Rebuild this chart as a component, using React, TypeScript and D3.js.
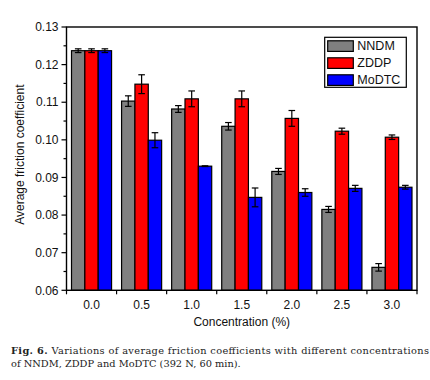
import React from "react";
import * as d3 from "d3";

const categories = ["0.0", "0.5", "1.0", "1.5", "2.0", "2.5", "3.0"];
const seriesNames = ["NNDM", "ZDDP", "MoDTC"];
const seriesColors = ["#808080", "#ff0000", "#0000ff"];
const nndm = [0.1237, 0.1103, 0.1082, 0.1036, 0.0916, 0.0815, 0.0661];
const nndmErr = [0.0005, 0.0014, 0.0009, 0.001, 0.0008, 0.0008, 0.001];
const zddp = [0.1237, 0.1148, 0.1109, 0.1109, 0.1057, 0.1023, 0.1007];
const zddpErr = [0.0005, 0.0025, 0.0021, 0.0021, 0.0021, 0.0008, 0.0006];
const modtc = [0.1237, 0.0999, 0.093, 0.0847, 0.086, 0.0871, 0.0874];
const modtcErr = [0.0005, 0.002, 0.0001, 0.0025, 0.001, 0.0008, 0.0005];
const yTicks = [0.06, 0.07, 0.08, 0.09, 0.1, 0.11, 0.12, 0.13];
const yMinor = [0.065, 0.075, 0.085, 0.095, 0.105, 0.115, 0.125];

export default function App() {
  const W = 430, H = 380;
  const L = 66.5, R = 417, T = 27, B = 290.3;
  const x = d3.scaleBand<string>().domain(categories).range([L, R]).paddingInner(0).paddingOuter(0);
  const inner = d3.scaleBand<string>().domain(seriesNames).range([0, x.bandwidth()]).paddingInner(0).paddingOuter(0.375);
  const y = d3.scaleLinear().domain([0.06, 0.13]).range([B, T]);
  const vals = [nndm, zddp, modtc];
  const errs = [nndmErr, zddpErr, modtcErr];
  const font = "'Liberation Sans', Arial, sans-serif";
  const boundaries = categories.map((c) => x(c)!).concat([R]);
  const legX = 324.7, legY = 37.3;

  return (
    <svg width={W} height={H} style={{ position: "absolute", left: 0, top: 0, background: "#fff" }}>
      <rect x={0} y={0} width={W} height={H} fill="#fff" />
      {categories.map((c, i) =>
        seriesNames.map((s, k) => {
          const bx = x(c)! + inner(s)!;
          const v = vals[k][i];
          const e = errs[k][i];
          const cx = bx + inner.bandwidth() / 2;
          return (
            <g key={c + s}>
              <rect x={bx} y={y(v)} width={inner.bandwidth()} height={B - y(v)} fill={seriesColors[k]} stroke="#000" strokeWidth={1.2} />
              <line x1={cx} x2={cx} y1={y(v + e)} y2={y(v - e)} stroke="#000" strokeWidth={1.2} />
              <line x1={cx - 3.3} x2={cx + 3.3} y1={y(v + e)} y2={y(v + e)} stroke="#000" strokeWidth={1.2} />
              <line x1={cx - 3.3} x2={cx + 3.3} y1={y(v - e)} y2={y(v - e)} stroke="#000" strokeWidth={1.2} />
            </g>
          );
        })
      )}
      <rect x={L} y={T} width={R - L} height={B - T} fill="none" stroke="#000" strokeWidth={1.4} />
      {yTicks.map((t) => (
        <g key={t}>
          <line x1={L - 5} x2={L} y1={y(t)} y2={y(t)} stroke="#000" strokeWidth={1.2} />
          <text x={L - 8} y={y(t)} dy="0.35em" textAnchor="end" fontFamily={font} fontSize={12} fill="#111">
            {t.toFixed(2)}
          </text>
        </g>
      ))}
      {yMinor.map((t) => (
        <line key={t} x1={L - 3} x2={L} y1={y(t)} y2={y(t)} stroke="#000" strokeWidth={1.2} />
      ))}
      {boundaries.map((bx, i) => (
        <line key={i} x1={bx} x2={bx} y1={B} y2={B + 4} stroke="#000" strokeWidth={1.2} />
      ))}
      {categories.map((c) => (
        <text key={c} x={x(c)! + x.bandwidth() / 2} y={309} textAnchor="middle" fontFamily={font} fontSize={12} fill="#111">
          {c}
        </text>
      ))}
      <text x={(L + R) / 2} y={326} textAnchor="middle" fontFamily={font} fontSize={12} fill="#111">
        Concentration (%)
      </text>
      <text transform={`translate(24,${(T + B) / 2 - 4}) rotate(-90)`} textAnchor="middle" fontFamily={font} fontSize={12} fill="#111">
        Average friction coefficient
      </text>
      <rect x={legX} y={legY} width={81.6} height={50} fill="#fff" stroke="#000" strokeWidth={1.2} />
      {seriesNames.map((s, k) => (
        <g key={s}>
          <rect x={legX + 3} y={legY + 3.5 + k * 17} width={25.6} height={10.6} fill={seriesColors[k]} stroke="#000" strokeWidth={1.2} />
          <text x={legX + 32.6} y={legY + 8.8 + k * 17} dy="0.35em" fontFamily={font} fontSize={12.5} fill="#111">
            {s}
          </text>
        </g>
      ))}
      <text x={11} y={354} fontFamily="'DejaVu Serif', 'Liberation Serif', serif" fontSize={9.8} fill="#222" textLength={418} lengthAdjust="spacing">
        <tspan fontWeight="bold">Fig. 6.</tspan> Variations of average friction coefficients with different concentrations
      </text>
      <text x={11} y={367.3} fontFamily="'DejaVu Serif', 'Liberation Serif', serif" fontSize={9.8} fill="#222">
        of NNDM, ZDDP and MoDTC (392 N, 60 min).
      </text>
    </svg>
  );
}
